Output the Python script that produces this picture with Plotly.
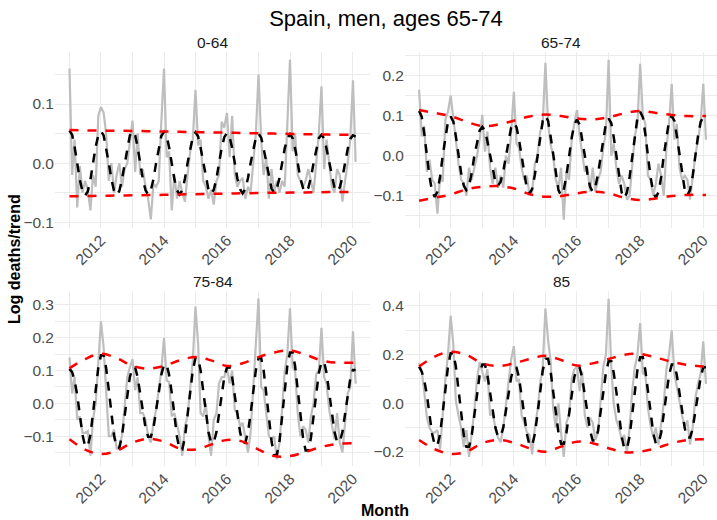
import pandas as pd
import plotly.graph_objects as go

# ---------------- data ----------------
months = pd.date_range("2011-01-01", "2020-02-01", freq="MS")          # 110 monthly points
env_dates = list(pd.date_range("2011-01-01", "2020-01-01", freq="6MS")) + [pd.Timestamp("2020-02-01")]

panel_names = ["0-64", "65-74", "75-84", "85"]

obs_0_64 = [
    0.160, -0.020, 0.040, -0.075, -0.005, -0.050, -0.030, -0.045, -0.080, -0.020, -0.040, 0.080,
    0.095, 0.085, 0.050, -0.030, 0.000, -0.050, -0.020, 0.000, -0.040, -0.010, 0.000, 0.040,
    0.072, -0.015, 0.050, -0.020, -0.010, -0.040, -0.060, -0.095, -0.035, -0.040, -0.030, 0.070,
    0.160, 0.010, 0.020, -0.080, -0.020, -0.060, -0.030, -0.050, -0.065, -0.020, 0.020, 0.040,
    0.124, 0.030, 0.040, -0.030, -0.040, -0.060, -0.045, -0.070, -0.030, -0.020, 0.070, 0.060,
    0.085, 0.010, 0.080, -0.020, -0.040, -0.030, -0.025, -0.060, -0.040, -0.050, 0.000, 0.050,
    0.150, 0.040, -0.020, 0.010, -0.060, -0.010, -0.050, -0.030, -0.050, -0.030, -0.040, 0.080,
    0.175, 0.020, 0.050, -0.020, -0.030, -0.040, -0.030, -0.010, -0.030, -0.050, 0.000, 0.050,
    0.130, -0.010, 0.040, 0.000, -0.040, -0.050, -0.010, -0.020, -0.065, -0.030, 0.000, 0.040,
    0.140, 0.002,
]
obs_65_74 = [
    0.165, 0.048, 0.075, -0.040, -0.010, -0.060, -0.070, -0.145, -0.050, -0.065, 0.090, 0.110,
    0.150, 0.100, 0.040, -0.020, -0.060, -0.070, -0.100, -0.030, -0.060, -0.030, 0.000, 0.040,
    0.102, 0.010, 0.060, -0.030, -0.070, -0.030, -0.080, -0.050, -0.080, 0.000, -0.020, 0.060,
    0.160, 0.030, 0.020, -0.030, -0.060, -0.050, -0.100, -0.090, -0.020, 0.000, 0.060, 0.080,
    0.232, 0.080, 0.030, 0.000, -0.060, -0.080, -0.030, -0.160, -0.040, -0.060, 0.040, 0.080,
    0.114, 0.050, 0.000, -0.040, -0.030, -0.090, -0.030, -0.090, -0.060, -0.040, 0.020, 0.060,
    0.240, 0.000, 0.030, -0.030, -0.070, -0.050, -0.070, -0.110, -0.100, -0.030, 0.050, 0.080,
    0.230, 0.100, 0.080, -0.050, -0.060, -0.100, -0.070, -0.020, -0.050, -0.100, 0.020, 0.080,
    0.180, 0.040, 0.080, -0.030, -0.060, -0.050, -0.060, -0.110, -0.050, 0.000, 0.040, 0.080,
    0.180, 0.040,
]
obs_75_84 = [
    0.140, 0.030, 0.080, -0.050, -0.040, -0.090, -0.090, -0.085, -0.160, -0.050, 0.000, 0.130,
    0.250, 0.170, 0.040, -0.100, -0.100, -0.080, -0.140, -0.130, -0.100, 0.000, 0.080, 0.110,
    0.135, 0.040, 0.080, -0.030, -0.030, -0.050, -0.100, -0.120, -0.060, -0.020, 0.050, 0.100,
    0.200, 0.070, 0.065, -0.040, -0.030, -0.070, -0.100, -0.160, -0.070, -0.040, 0.050, 0.130,
    0.295, 0.180, -0.030, -0.040, 0.000, -0.100, -0.160, -0.050, -0.030, 0.060, 0.080, 0.080,
    0.110, 0.060, 0.100, -0.020, -0.030, -0.070, -0.060, -0.100, -0.150, -0.090, 0.050, 0.150,
    0.320, 0.050, 0.040, -0.030, -0.100, -0.110, -0.100, -0.170, -0.120, -0.020, 0.100, 0.150,
    0.290, 0.110, 0.100, -0.030, -0.100, -0.070, -0.080, -0.120, -0.040, 0.000, 0.090, 0.100,
    0.230, 0.080, 0.060, -0.020, -0.060, -0.110, -0.030, -0.120, -0.150, -0.060, 0.030, 0.050,
    0.220, 0.060,
]
obs_85 = [
    0.165, 0.130, 0.050, -0.060, -0.100, -0.120, -0.120, -0.110, -0.190, -0.030, 0.100, 0.200,
    0.360, 0.240, 0.010, -0.050, -0.100, -0.180, -0.110, -0.220, -0.120, -0.030, 0.100, 0.170,
    0.130, 0.090, 0.140, -0.050, -0.040, -0.100, -0.140, -0.160, -0.100, 0.000, 0.100, 0.180,
    0.235, 0.090, 0.100, -0.050, -0.080, -0.120, -0.130, -0.210, -0.100, -0.030, 0.080, 0.150,
    0.390, 0.260, 0.180, -0.020, -0.100, 0.000, -0.120, -0.220, -0.080, -0.050, 0.100, 0.140,
    0.150, 0.050, 0.130, -0.050, -0.100, -0.060, -0.080, -0.150, -0.120, 0.000, 0.150, 0.200,
    0.430, 0.150, 0.000, -0.070, -0.100, -0.150, -0.130, -0.200, -0.100, 0.050, 0.150, 0.200,
    0.330, 0.120, 0.130, -0.020, -0.090, -0.140, -0.100, -0.170, -0.090, 0.000, 0.140, 0.200,
    0.300, 0.120, 0.070, 0.000, -0.050, -0.100, -0.070, -0.170, -0.100, 0.020, 0.080, 0.120,
    0.255, 0.080,
]

fit_0_64 = [
    0.055, 0.048, 0.028, 0.0, -0.028, -0.048, -0.055, -0.048, -0.028, 0.0, 0.028, 0.047,
    0.054, 0.047, 0.027, 0.0, -0.027, -0.047, -0.054, -0.047, -0.027, 0.0, 0.027, 0.047,
    0.054, 0.047, 0.027, 0.0, -0.027, -0.046, -0.053, -0.046, -0.027, 0.0, 0.027, 0.046,
    0.053, 0.046, 0.027, 0.0, -0.027, -0.046, -0.053, -0.046, -0.026, 0.0, 0.026, 0.045,
    0.052, 0.045, 0.026, 0.0, -0.026, -0.045, -0.052, -0.045, -0.026, 0.0, 0.026, 0.044,
    0.051, 0.044, 0.026, 0.0, -0.026, -0.044, -0.051, -0.044, -0.025, 0.0, 0.025, 0.043,
    0.050, 0.043, 0.025, 0.0, -0.025, -0.043, -0.050, -0.043, -0.025, 0.0, 0.025, 0.042,
    0.049, 0.042, 0.025, 0.0, -0.025, -0.042, -0.049, -0.042, -0.024, 0.0, 0.024, 0.042,
    0.048, 0.042, 0.024, 0.0, -0.024, -0.042, -0.048, -0.041, -0.024, 0.0, 0.024, 0.041,
    0.047, 0.045,
]
fit_65_74 = [
    0.112, 0.097, 0.056, 0.0, -0.052, -0.090, -0.103, -0.090, -0.052, 0.0, 0.049, 0.085,
    0.098, 0.085, 0.049, 0.0, -0.043, -0.075, -0.086, -0.075, -0.043, 0.0, 0.036, 0.063,
    0.072, 0.063, 0.036, 0.0, -0.038, -0.065, -0.075, -0.065, -0.038, 0.0, 0.041, 0.071,
    0.082, 0.071, 0.041, 0.0, -0.048, -0.083, -0.095, -0.083, -0.048, 0.0, 0.050, 0.087,
    0.100, 0.087, 0.050, 0.0, -0.050, -0.086, -0.099, -0.086, -0.050, 0.0, 0.045, 0.078,
    0.090, 0.078, 0.045, 0.0, -0.045, -0.078, -0.090, -0.078, -0.045, 0.0, 0.047, 0.081,
    0.093, 0.081, 0.047, 0.0, -0.053, -0.092, -0.106, -0.092, -0.053, 0.0, 0.055, 0.096,
    0.110, 0.096, 0.055, 0.0, -0.053, -0.091, -0.105, -0.091, -0.053, 0.0, 0.050, 0.087,
    0.100, 0.087, 0.050, 0.0, -0.050, -0.086, -0.099, -0.086, -0.050, 0.0, 0.049, 0.084,
    0.097, 0.096,
]
fit_75_84 = [
    0.105, 0.095, 0.070, 0.025, -0.035, -0.096, -0.131, -0.131, -0.096, -0.035, 0.040, 0.108,
    0.147, 0.147, 0.108, 0.040, -0.036, -0.099, -0.136, -0.136, -0.099, -0.036, 0.029, 0.080,
    0.109, 0.109, 0.080, 0.029, -0.027, -0.075, -0.102, -0.102, -0.075, -0.027, 0.032, 0.087,
    0.118, 0.118, 0.087, 0.032, -0.038, -0.103, -0.141, -0.141, -0.103, -0.038, 0.037, 0.101,
    0.138, 0.138, 0.101, 0.037, -0.032, -0.088, -0.120, -0.120, -0.088, -0.032, 0.029, 0.080,
    0.109, 0.109, 0.080, 0.029, -0.032, -0.088, -0.120, -0.120, -0.088, -0.032, 0.037, 0.101,
    0.138, 0.138, 0.101, 0.037, -0.042, -0.116, -0.158, -0.158, -0.116, -0.042, 0.042, 0.114,
    0.155, 0.155, 0.114, 0.042, -0.038, -0.105, -0.144, -0.144, -0.105, -0.038, 0.034, 0.092,
    0.126, 0.126, 0.092, 0.034, -0.032, -0.087, -0.118, -0.118, -0.087, -0.032, 0.027, 0.075,
    0.102, 0.102,
]
fit_85 = [
    0.151, 0.130, 0.095, 0.035, -0.046, -0.126, -0.173, -0.173, -0.126, -0.046, 0.055, 0.151,
    0.206, 0.206, 0.151, 0.055, -0.048, -0.131, -0.179, -0.179, -0.131, -0.048, 0.043, 0.116,
    0.159, 0.159, 0.116, 0.043, -0.036, -0.099, -0.136, -0.136, -0.099, -0.036, 0.039, 0.107,
    0.146, 0.146, 0.107, 0.039, -0.046, -0.126, -0.173, -0.173, -0.126, -0.046, 0.049, 0.134,
    0.183, 0.183, 0.134, 0.049, -0.044, -0.121, -0.166, -0.166, -0.121, -0.044, 0.039, 0.107,
    0.146, 0.146, 0.107, 0.039, -0.041, -0.112, -0.153, -0.153, -0.112, -0.041, 0.046, 0.126,
    0.173, 0.173, 0.126, 0.046, -0.050, -0.136, -0.186, -0.186, -0.136, -0.050, 0.051, 0.138,
    0.189, 0.189, 0.138, 0.051, -0.044, -0.121, -0.166, -0.166, -0.121, -0.044, 0.043, 0.116,
    0.159, 0.159, 0.116, 0.043, -0.038, -0.103, -0.141, -0.141, -0.103, -0.038, 0.038, 0.105,
    0.148, 0.148,
]

upper_0_64 = [0.056, 0.0555, 0.055, 0.0548, 0.0545, 0.054, 0.0535, 0.053, 0.0525, 0.052,
              0.0515, 0.051, 0.0505, 0.050, 0.0495, 0.049, 0.0485, 0.048, 0.0478, 0.0477]
lower_0_64 = [-0.056, -0.0556, -0.0552, -0.0548, -0.0544, -0.054, -0.0535, -0.053, -0.0525, -0.052,
              -0.0515, -0.051, -0.0505, -0.050, -0.0498, -0.0495, -0.049, -0.0488, -0.0485, -0.0485]
upper_65_74 = [0.114, 0.107, 0.099, 0.085, 0.074, 0.078, 0.0875, 0.098, 0.103, 0.099,
               0.093, 0.091, 0.096, 0.106, 0.112, 0.107, 0.102, 0.099, 0.099, 0.099]
lower_65_74 = [-0.1125, -0.105, -0.097, -0.084, -0.0775, -0.076, -0.082, -0.096, -0.1025, -0.101,
               -0.094, -0.090, -0.094, -0.105, -0.111, -0.107, -0.101, -0.098, -0.098, -0.098]
upper_75_84 = [0.107, 0.135, 0.151, 0.138, 0.114, 0.106, 0.114, 0.131, 0.141, 0.131,
               0.114, 0.122, 0.141, 0.155, 0.161, 0.148, 0.131, 0.124, 0.124, 0.124]
lower_75_84 = [-0.110, -0.141, -0.155, -0.145, -0.120, -0.108, -0.117, -0.138, -0.141, -0.126,
               -0.112, -0.117, -0.141, -0.161, -0.161, -0.148, -0.133, -0.124, -0.122, -0.122]
upper_85 = [0.151, 0.192, 0.212, 0.199, 0.164, 0.153, 0.164, 0.182, 0.195, 0.178,
            0.155, 0.164, 0.182, 0.199, 0.203, 0.188, 0.171, 0.158, 0.151, 0.151]
lower_85 = [-0.151, -0.189, -0.208, -0.199, -0.164, -0.151, -0.162, -0.185, -0.199, -0.178,
            -0.158, -0.164, -0.185, -0.201, -0.199, -0.185, -0.164, -0.151, -0.148, -0.148]

observed = [obs_0_64, obs_65_74, obs_75_84, obs_85]
fitted = [fit_0_64, fit_65_74, fit_75_84, fit_85]
uppers = [upper_0_64, upper_65_74, upper_75_84, upper_85]
lowers = [lower_0_64, lower_65_74, lower_75_84, lower_85]

y_major = [[-0.1, 0.0, 0.1], [-0.1, 0.0, 0.1, 0.2], [-0.1, 0.0, 0.1, 0.2, 0.3], [-0.2, 0.0, 0.2, 0.4]]
y_minor_step = [0.05, 0.05, 0.05, 0.1]
y_ranges = [[-0.1088, 0.1888], [-0.1795, 0.2605], [-0.1913, 0.3442], [-0.2578, 0.4637]]

# ---------------- layout helpers ----------------
W, H = 717, 520


def dec_to_date(y):
    yr = int(y)
    start = pd.Timestamp(yr, 1, 1)
    end = pd.Timestamp(yr + 1, 1, 1)
    return (start + (end - start) * (y - yr)).strftime("%Y-%m-%d %H:%M:%S")


def fmt_tick(v):
    s = "%.1f" % v
    return s.replace("-", "\u2212")


x_dom = [[55 / W, 370 / W], [405 / W, 1.0]]
y_dom = [[1 - 227.5 / H, 1 - 51.5 / H], [1 - 466 / H, 1 - 290.5 / H]]
x_rng = [[dec_to_date(2010.540), dec_to_date(2020.540)], [dec_to_date(2010.553), dec_to_date(2020.434)]]

GRID = "#EBEBEB"
TICKC = "#4D4D4D"
FONT = "Liberation Sans, Arial, Helvetica, sans-serif"

fig = go.Figure()
layout = {}
for i in range(4):
    col = i % 2
    row = i // 2
    sfx = "" if i == 0 else str(i + 1)
    xa, ya = "x" + sfx, "y" + sfx
    fig.add_trace(go.Scatter(x=months, y=observed[i], mode="lines",
                             line=dict(color="#BEBEBE", width=2.2),
                             xaxis=xa, yaxis=ya, showlegend=False, hoverinfo="skip"))
    fig.add_trace(go.Scatter(x=months, y=fitted[i], mode="lines",
                             line=dict(color="black", width=2.5, dash="9px,8px"),
                             xaxis=xa, yaxis=ya, showlegend=False, hoverinfo="skip"))
    for env in (uppers[i], lowers[i]):
        fig.add_trace(go.Scatter(x=env_dates, y=env, mode="lines",
                                 line=dict(color="#FF0000", width=2.5, dash="9px,9px", shape="spline"),
                                 xaxis=xa, yaxis=ya, showlegend=False, hoverinfo="skip"))
    layout["xaxis" + sfx] = dict(
        type="date", domain=x_dom[col], range=x_rng[col], anchor=ya,
        tickformat="%Y", tick0="2012-01-01", dtick="M24", tickangle=-45,
        tickfont=dict(size=15.5, color=TICKC, family=FONT),
        showgrid=True, gridcolor=GRID, gridwidth=1, zeroline=False, showline=False, ticks="",
        minor=dict(tick0="2011-01-01", dtick="M24", showgrid=True, gridcolor=GRID, gridwidth=0.6),
        automargin=False, fixedrange=True,
    )
    layout["yaxis" + sfx] = dict(
        domain=y_dom[row], range=y_ranges[i], anchor=xa,
        tickvals=y_major[i], ticktext=[fmt_tick(v) for v in y_major[i]],
        tickfont=dict(size=15.5, color=TICKC, family=FONT),
        showgrid=True, gridcolor=GRID, gridwidth=1, zeroline=False, showline=False, ticks="",
        minor=dict(tick0=0, dtick=y_minor_step[i], showgrid=True, gridcolor=GRID, gridwidth=0.6),
        automargin=False, fixedrange=True,
    )

strip_pos = [(212.5 / W, 1 - 42 / H), (561 / W, 1 - 42 / H), (212.5 / W, 1 - 281 / H), (561 / W, 1 - 281 / H)]
annotations = []
for name, (ax_, ay_) in zip(panel_names, strip_pos):
    annotations.append(dict(text=name, x=ax_, y=ay_, xref="paper", yref="paper", showarrow=False,
                            xanchor="center", yanchor="middle",
                            font=dict(size=15.5, color="#1A1A1A", family=FONT)))
annotations.append(dict(text="<b>Log deaths/trend</b>", x=14 / W, y=1 - 259 / H, xref="paper", yref="paper",
                        showarrow=False, textangle=-90, xanchor="center", yanchor="middle",
                        font=dict(size=16, color="black", family=FONT)))
annotations.append(dict(text="<b>Month</b>", x=385 / W, y=1 - 510 / H, xref="paper", yref="paper",
                        showarrow=False, xanchor="center", yanchor="middle",
                        font=dict(size=16, color="black", family=FONT)))

fig.update_layout(
    width=W, height=H,
    margin=dict(l=0, r=0, t=0, b=0),
    paper_bgcolor="white", plot_bgcolor="white",
    title=dict(text="Spain, men, ages 65-74", x=386 / W, y=1 - 18 / H, xanchor="center", yanchor="middle",
               font=dict(size=22, color="black", family=FONT)),
    annotations=annotations,
    **layout,
)

fig.write_html("out.html", config={"displayModeBar": False},
               post_script="document.body.style.margin='0px';document.body.style.overflow='hidden';")
